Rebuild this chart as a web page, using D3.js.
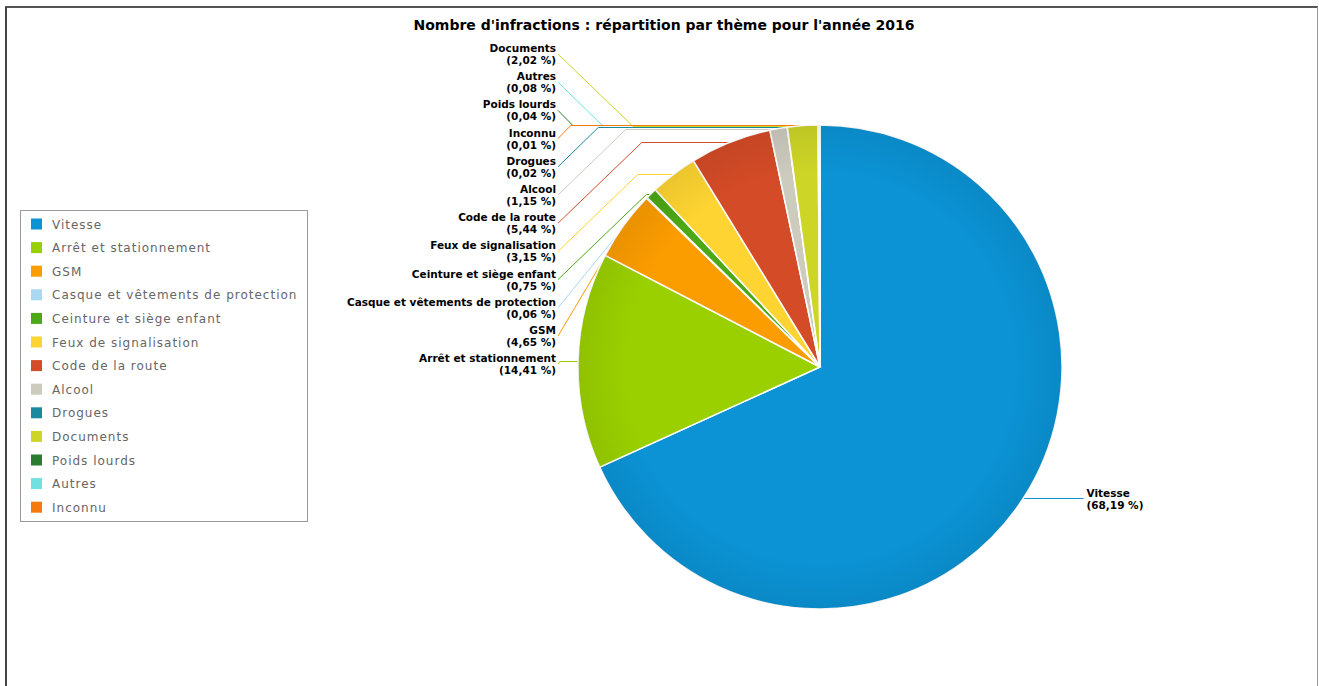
<!DOCTYPE html>
<html>
<head>
<meta charset="utf-8">
<script src="https://cdn.jsdelivr.net/npm/d3@7"></script>
<style>
    body { margin: 0; background: white; }
    text { font-family: "DejaVu Sans", sans-serif; }
</style>
</head>
<body>
<svg id="chart" width="1319" height="686"></svg>
<script>
const title = "Nombre d'infractions : répartition par thème pour l'année 2016"

const themes = ["Vitesse", "Arrêt et stationnement", "GSM", "Casque et vêtements de protection",
    "Ceinture et siège enfant", "Feux de signalisation", "Code de la route", "Alcool",
    "Drogues", "Documents", "Poids lourds", "Autres", "Inconnu"]
const shares = [68.19, 14.41, 4.65, 0.06, 0.75, 3.15, 5.44, 1.15, 0.02, 2.02, 0.04, 0.08, 0.01]
const colors = ["#0b93d5", "#9ad000", "#fb9c00", "#a8d8f2", "#4ca814", "#fdd431", "#d44b27",
    "#cdcabe", "#19899f", "#cdd527", "#2b7b31", "#70e0e0", "#f47a0d"]
// order of the stacked labels on the left, top to bottom
const leftOrder = ["Documents", "Autres", "Poids lourds", "Inconnu", "Drogues", "Alcool",
    "Code de la route", "Feux de signalisation", "Ceinture et siège enfant",
    "Casque et vêtements de protection", "GSM", "Arrêt et stationnement"]

const data = themes.map((t, i) => ({ name: t, value: shares[i], color: colors[i] }))

const svg = d3.select("#chart")
const cx = 820, cy = 367, r = 242

// frame
svg.append("line").attr("x1", 5).attr("x2", 1318).attr("y1", 7).attr("y2", 7)
    .style("stroke", "#555").style("stroke-width", "2px")
svg.append("line").attr("x1", 6).attr("x2", 6).attr("y1", 7).attr("y2", 686)
    .style("stroke", "#444").style("stroke-width", "2px")
svg.append("line").attr("x1", 1317.5).attr("x2", 1317.5).attr("y1", 7).attr("y2", 686)
    .style("stroke", "#999").style("stroke-width", "1px")

svg.append("text")
    .attr("x", 664).attr("y", 30)
    .attr("text-anchor", "middle")
    .style("font-weight", "bold").style("font-size", "14px")
    .text(title)

const fmt = (v) => "(" + v.toFixed(2).replace(".", ",") + " %)"

const pie = d3.pie().sort(null).value((d) => d.value)
const arcs = pie(data)
const arc = d3.arc().innerRadius(0).outerRadius(r)

const defs = svg.append("defs")
const rim = defs.append("radialGradient").attr("id", "rim")
rim.append("stop").attr("offset", "80%").attr("stop-color", "black").attr("stop-opacity", 0)
rim.append("stop").attr("offset", "100%").attr("stop-color", "black").attr("stop-opacity", 0.07)

const g = svg.append("g").attr("transform", "translate(" + cx + "," + cy + ")")

// labels + leader lines
const anchorX = 557 - cx
const stepY = 28.2, topY = 54 - cy
arcs.forEach((a) => {
    let mid = (a.startAngle + a.endAngle) / 2
    a.ex = Math.sin(mid) * r
    a.ey = Math.round(-Math.cos(mid) * r) + 0.5
    a.left = mid > Math.PI
    if (a.left) {
        a.ly = topY + leftOrder.indexOf(a.data.name) * stepY
        a.lx = anchorX
    } else {
        a.ly = a.ey
        a.lx = a.ex + 60
    }
})

g.selectAll(".leader")
    .data(arcs)
    .enter()
    .append("polyline")
    .attr("class", "leader")
    .attr("points", (d) => {
        if (!d.left) return [[d.ex - 5, d.ey], [d.lx, d.ly]].join(" ")
        let elbow = d.lx + Math.abs(d.ey - d.ly) * 1.05
        if (elbow >= d.ex) return [[d.lx + 1, d.ly], [d.ex, d.ey]].join(" ")
        return [[d.lx + 1, d.ly], [elbow, d.ey], [d.ex, d.ey]].join(" ")
    })
    .style("fill", "none")
    .style("stroke", (d) => d.data.color)
    .style("stroke-width", "1px")

g.selectAll(".slice")
    .data(arcs)
    .enter()
    .append("path")
    .attr("class", "slice")
    .attr("d", arc)
    .attr("fill", (d) => d.data.color)
    .style("stroke", "white")
    .style("stroke-width", "1.5px")

g.append("circle").attr("r", r).attr("fill", "url(#rim)").style("pointer-events", "none")

const lab = g.selectAll(".sliceLabel")
    .data(arcs)
    .enter()
    .append("text")
    .attr("class", "sliceLabel")
    .attr("text-anchor", (d) => d.left ? "end" : "start")
    .style("font-weight", "bold").style("font-size", "10.5px")
lab.append("tspan")
    .attr("x", (d) => d.left ? d.lx - 1 : d.lx + 3)
    .attr("y", (d) => d.ly - 2)
    .text((d) => d.data.name)
lab.append("tspan")
    .attr("x", (d) => d.left ? d.lx - 1 : d.lx + 3)
    .attr("y", (d) => d.ly + 10)
    .text((d) => fmt(d.data.value))

// legend
const legend = svg.append("g").attr("transform", "translate(20,210)")
legend.append("rect")
    .attr("x", 0.5).attr("y", 0.5).attr("width", 287).attr("height", 311)
    .style("fill", "white").style("stroke", "#999")
const li = legend.selectAll(".legendItem")
    .data(data)
    .enter()
    .append("g")
    .attr("class", "legendItem")
    .attr("transform", (d, i) => "translate(11," + (14 + i * 23.6) + ")")
li.append("rect")
    .attr("x", 0).attr("y", -5.5).attr("width", 11).attr("height", 11)
    .attr("fill", (d) => d.color)
li.append("text")
    .attr("x", 21).attr("y", 4.5)
    .style("font-size", "12px").style("fill", "#666").style("letter-spacing", "1px")
    .text((d) => d.name)
</script>
</body>
</html>
